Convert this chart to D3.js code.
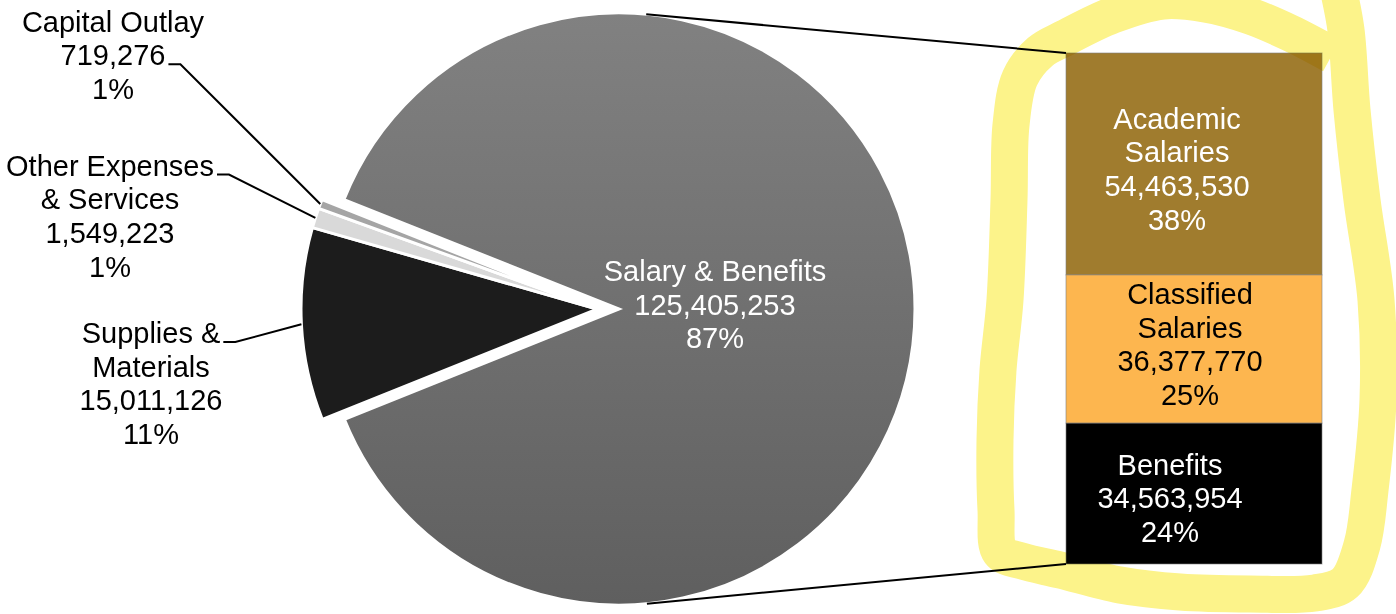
<!DOCTYPE html>
<html>
<head>
<meta charset="utf-8">
<script src="https://cdn.jsdelivr.net/npm/d3@7"></script>
<style>
  body { margin: 0; background: #fff; }
  svg { display: block; font-family: "Liberation Sans", Arial, sans-serif; }
</style>
</head>
<body>
<div id="chart"></div>
<script>
// data
const pieCategories = ["Supplies & Materials", "Other Expenses & Services", "Capital Outlay", "Salary & Benefits"];
const pieValues = [15011126, 1549223, 719276, 125405253];
const piePercents = ["11%", "1%", "1%", "87%"];

const barCategories = ["Academic Salaries", "Classified Salaries", "Benefits"];
const barValues = [54463530, 36377770, 34563954];
const barPercents = ["38%", "25%", "24%"];

const width = 1396, height = 614;
const cx = 619, cy = 309, radius = 296, explode = 22; // pie geometry
const fontSize = 29, lineHeight = 33.7;
const deg = Math.PI / 180;
const fmt = d3.format(",");

const pieColors = ["#1c1c1c", "#d9d9d9", "#a5a5a5", "url(#salaryGrad)"];
const barColors = ["#a07c2e", "#fdb64f", "#000000"];
const barText = ["#ffffff", "#000000", "#ffffff"];

// label placement (layout only)
const pieLabelPos = [
  { x: 151, y: 343, maxW: 200, leader: 0 },
  { x: 110, y: 175.5, maxW: 220, leader: 0 },
  { x: 113, y: 31.5, maxW: 220, leader: 1 },
  { x: 715, y: 281, maxW: 260, leader: -1 }
];
const barLabelPos = [
  { x: 1177, y: 128.5, maxW: 200 },
  { x: 1190, y: 304, maxW: 200 },
  { x: 1170, y: 474.5, maxW: 200 }
];

const svg = d3.select("#chart")
  .append("svg")
  .attr("width", width)
  .attr("height", height);

// vertical shading of the big slice (coords are local to the translated slice)
const defs = svg.append("defs");
const grad = defs.append("linearGradient")
  .attr("id", "salaryGrad")
  .attr("gradientUnits", "userSpaceOnUse")
  .attr("x1", 0).attr("y1", -radius)
  .attr("x2", 0).attr("y2", radius);
grad.append("stop").attr("offset", 0).attr("stop-color", "#818181");
grad.append("stop").attr("offset", 1).attr("stop-color", "#5f5f5f");

// pie: the three small slices sit on the left and get pulled out together
const pie = d3.pie().sort(null)
  .startAngle(248.1 * deg)
  .endAngle(248.1 * deg + 2 * Math.PI);
const arcs = pie(pieValues);
const arc = d3.arc().innerRadius(0).outerRadius(radius);
const rim = d3.arc().innerRadius(radius).outerRadius(radius);

const groupMid = (arcs[0].startAngle + arcs[2].endAngle) / 2;
const off = [Math.sin(groupMid) * explode, -Math.cos(groupMid) * explode];

const pieG = svg.append("g");
pieG.selectAll("path")
  .data(arcs)
  .join("path")
  .attr("transform", (d, i) => i < 3 ? `translate(${cx + off[0]},${cy + off[1]})` : `translate(${cx},${cy})`)
  .attr("d", arc)
  .attr("fill", (d, i) => pieColors[i])
  .attr("stroke", "#fff")
  .attr("stroke-width", 3);

// text helpers
const measure = svg.append("text").attr("font-size", fontSize).attr("visibility", "hidden");
function textW(s) { measure.text(s); return measure.node().getComputedTextLength(); }

function wrap(name, maxW) {
  const words = name.split(" ");
  const lines = [];
  let cur = "";
  words.forEach(w => {
    const t = cur ? cur + " " + w : w;
    if (cur && textW(t) > maxW) { lines.push(cur); cur = w; }
    else cur = t;
  });
  if (cur) lines.push(cur);
  return lines;
}

function drawLabel(lines, pos, color) {
  svg.append("text")
    .attr("font-size", fontSize)
    .attr("fill", color)
    .attr("text-anchor", "middle")
    .selectAll("tspan")
    .data(lines)
    .join("tspan")
    .attr("x", pos.x)
    .attr("y", (d, i) => pos.y + i * lineHeight)
    .text(d => d);
}

// pie labels + leader lines
pieCategories.forEach((c, i) => {
  const lines = wrap(c, pieLabelPos[i].maxW).concat([fmt(pieValues[i]), piePercents[i]]);
  const pos = pieLabelPos[i];
  drawLabel(lines, pos, i === 3 ? "#fff" : "#000");
  if (pos.leader >= 0) {
    const sx = pos.x + textW(lines[pos.leader]) / 2 + 3;
    const sy = pos.y + pos.leader * lineHeight - 1;
    const p = rim.centroid(arcs[i]);
    svg.append("path")
      .attr("d", d3.line()([[sx, sy], [sx + 12, sy], [cx + off[0] + p[0], cy + off[1] + p[1]]]))
      .attr("fill", "none")
      .attr("stroke", "#000")
      .attr("stroke-width", 2);
  }
});

// stacked bar on the right
const barX = 1066, barW = 256;
const y = d3.scaleLinear().domain([0, d3.sum(barValues)]).range([53, 564]);
const cum = d3.cumsum(barValues);
const segs = barValues.map((v, i) => ({ v, i, y0: y(cum[i] - v), y1: y(cum[i]) }));

svg.append("g")
  .selectAll("rect")
  .data(segs)
  .join("rect")
  .attr("x", barX)
  .attr("y", d => d.y0)
  .attr("width", barW)
  .attr("height", d => d.y1 - d.y0)
  .attr("fill", d => barColors[d.i])
  .attr("stroke", "#7f7f7f")
  .attr("stroke-opacity", 0.6)
  .attr("stroke-width", 1);

barCategories.forEach((c, i) => {
  const lines = wrap(c, barLabelPos[i].maxW).concat([fmt(barValues[i]), barPercents[i]]);
  drawLabel(lines, barLabelPos[i], barText[i]);
});

// connector lines: tangents from bar corners to the pie
function tangent(px, py, upper) {
  const dx = cx - px, dy = cy - py;
  const d = Math.hypot(dx, dy);
  const a = Math.atan2(dy, dx), b = Math.asin(radius / d);
  const L = Math.sqrt(d * d - radius * radius);
  const pts = [a + b, a - b].map(t => [px + L * Math.cos(t), py + L * Math.sin(t)]);
  pts.sort((p, q) => p[1] - q[1]);
  return upper ? pts[0] : pts[1];
}
[[y(0), true], [y(d3.sum(barValues)), false]].forEach(([yy, up]) => {
  svg.append("path")
    .attr("d", d3.line()([[barX, yy], tangent(barX, yy, up)]))
    .attr("stroke", "#000")
    .attr("stroke-width", 2);
});

// hand-drawn yellow highlight round the bar
const marker = [[1338, -12], [1346, 30], [1352, 110], [1362, 200], [1376, 300], [1378, 400], [1370, 490],
  [1362, 545], [1345, 583], [1315, 593], [1250, 594], [1180, 592], [1120, 585], [1060, 570], [1022, 561],
  [1000, 552], [996, 510], [995, 440], [998, 370], [1005, 300], [1009, 200], [1011, 125], [1020, 78],
  [1040, 52], [1065, 38], [1113, 15], [1163, 1], [1205, 4], [1250, 16], [1290, 33], [1332, 55]];
svg.append("path")
  .attr("d", d3.line().curve(d3.curveCatmullRom)(marker))
  .attr("fill", "none")
  .attr("stroke", "#fcf38a")
  .attr("stroke-width", 37)
  .attr("stroke-linejoin", "round")
  .style("mix-blend-mode", "multiply");
</script>
</body>
</html>
